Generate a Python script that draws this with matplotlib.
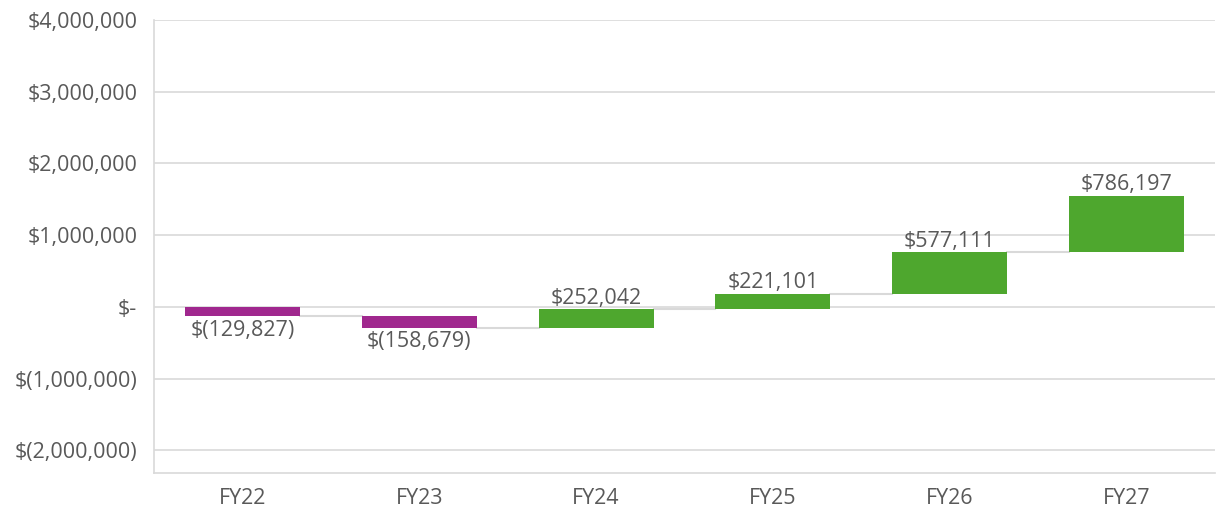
import matplotlib
matplotlib.use("Agg")
import matplotlib.pyplot as plt
from matplotlib.ticker import FuncFormatter

categories = ["FY22", "FY23", "FY24", "FY25", "FY26", "FY27"]
changes = [-129827, -158679, 252042, 221101, 577111, 786197]
yticks = [-2000000, -1000000, 0, 1000000, 2000000, 3000000, 4000000]

plt.rcParams['font.family'] = ['Open Sans', 'DejaVu Sans']
TXT = "#595959"
GRID = "#d9d9d9"
POS = "#4ea72e"
NEG = "#a0288e"
FS = 15.5

fig = plt.figure(figsize=(12.25, 5.27), dpi=100)
ax = fig.add_axes([154/1225, 1 - 472.5/527, (1215-154)/1225, (472.5-20)/527])

x = list(range(len(categories)))
starts = []
ends = []
cum = 0
for c in changes:
    starts.append(cum)
    cum += c
    ends.append(cum)

width = 0.65
for i, c in enumerate(changes):
    color = POS if c >= 0 else NEG
    ax.bar(i, c, bottom=starts[i], width=width, color=color, zorder=3)
    if c >= 0:
        ax.text(i, ends[i] + 10000, f"${c:,.0f}", ha="center", va="bottom",
                fontsize=FS, color=TXT, zorder=4)
    else:
        ax.text(i, ends[i] - 50000, f"$({-c:,.0f})", ha="center", va="top",
                fontsize=FS, color=TXT, zorder=4)
    if i < len(changes) - 1:
        ax.plot([i + width/2, i + 1 - width/2], [ends[i], ends[i]],
                color=GRID, lw=1.5, zorder=2)

def fmt(v, pos):
    if v == 0:
        return "$-"
    if v < 0:
        return f"$({-v:,.0f})"
    return f"${v:,.0f}"

ax.set_yticks(yticks)
ax.yaxis.set_major_formatter(FuncFormatter(fmt))
ax.set_ylim(-2310000, 4000000)
ax.set_xlim(-0.5, len(categories) - 0.5)
ax.set_xticks(x)
ax.set_xticklabels(categories)
ax.grid(axis="y", color=GRID, lw=1.2, zorder=0)
ax.set_axisbelow(True)
for s in ["top", "right"]:
    ax.spines[s].set_visible(False)
for s in ["left", "bottom"]:
    ax.spines[s].set_color(GRID)
    ax.spines[s].set_linewidth(1.2)
ax.tick_params(axis="both", length=0, labelsize=FS, labelcolor=TXT)
ax.tick_params(axis="y", pad=12)
ax.tick_params(axis="x", pad=11)

fig.savefig("out.png", dpi=100)
